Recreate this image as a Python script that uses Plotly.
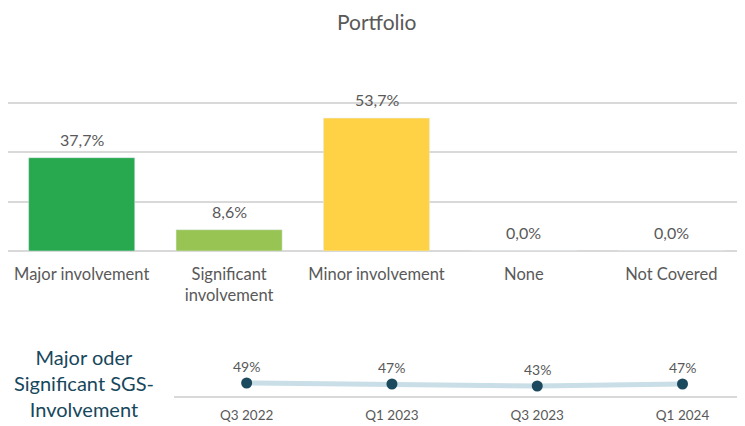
import plotly.graph_objects as go

categories = ["Major involvement", "Significant involvement", "Minor involvement", "None", "Not Covered"]
tick_labels = ["Major involvement", "Significant<br>involvement", "Minor involvement", "None", "Not Covered"]
values = [37.7, 8.6, 53.7, 0.0, 0.0]
bar_colors = ["#28A84F", "#97C452", "#FFD246", "#CCCCCC", "#CCCCCC"]

periods = ["Q3 2022", "Q1 2023", "Q3 2023", "Q1 2024"]
trend = [49, 47, 43, 47]

# page body has an 8px margin; figure fills the rest of the window
OFF = 8
W, H = 745 - OFF, 426 - OFF
def py(px):
    return 1 - (px - OFF) / H
def pxr(px):
    return (px - OFF) / W

FONT = "Lato"
GRAY = "#595959"

fig = go.Figure()

fig.add_trace(go.Bar(
    x=categories, y=values, marker_color=bar_colors, width=0.72,
    xaxis="x", yaxis="y", showlegend=False, hoverinfo="skip",
))

for c, v in zip(categories, values):
    fig.add_annotation(
        x=c, y=v, xref="x", yref="y", text=f"{v:.1f}%".replace(".", ","),
        showarrow=False, yanchor="bottom", yshift=7,
        font=dict(family=FONT, size=16, color=GRAY),
    )

fig.add_trace(go.Scatter(
    x=periods, y=trend, mode="lines+markers",
    line=dict(color="#C9DEE7", width=5),
    marker=dict(color="#1B4A5E", size=11),
    xaxis="x2", yaxis="y2", showlegend=False, hoverinfo="skip",
))
for p, v in zip(periods, trend):
    fig.add_annotation(
        x=p, y=v, xref="x2", yref="y2", text=f"{v}%",
        showarrow=False, yanchor="bottom", yshift=6,
        font=dict(family=FONT, size=14, color=GRAY),
    )

fig.update_layout(
    width=W, height=H,
    margin=dict(l=0, r=0, t=0, b=0),
    paper_bgcolor="white", plot_bgcolor="white",
    font=dict(family=FONT, color=GRAY),
    xaxis=dict(domain=[pxr(8), 1], range=[-0.5, 4.5], tickvals=categories, ticktext=tick_labels,
               ticks="outside", ticklen=8, tickcolor="rgba(0,0,0,0)",
               tickfont=dict(family=FONT, size=16.5, color=GRAY), showgrid=False,
               showline=False, zeroline=False, fixedrange=True),
    yaxis=dict(domain=[py(251), py(53)], range=[0, 80], dtick=20, showticklabels=False,
               gridcolor="#D9D9D9", gridwidth=1.5, zeroline=True, zerolinecolor="#D9D9D9",
               zerolinewidth=1.5, fixedrange=True),
    xaxis2=dict(domain=[pxr(174), 1], range=[-0.5, 3.43], anchor="y2", showgrid=False,
                showline=True, linecolor="#D9D9D9", linewidth=1.5, ticks="outside",
                ticklen=6, tickcolor="rgba(0,0,0,0)",
                tickfont=dict(family=FONT, size=13.5, color=GRAY), zeroline=False),
    yaxis2=dict(domain=[py(396), py(360)], range=[23, 95], anchor="x2", visible=False),
)

fig.add_annotation(
    x=0.5, y=1, xref="paper", yref="paper", text="Portfolio", showarrow=False,
    xanchor="center", yanchor="top", yshift=1,
    font=dict(family=FONT, size=21, color=GRAY),
)

fig.add_annotation(
    x=pxr(84), y=py(383), xref="paper", yref="paper",
    text="Major oder<br>Significant SGS-<br>Involvement", showarrow=False,
    font=dict(family=FONT, size=20, color="#17475C"), align="center",
    xanchor="center", yanchor="middle",
)

fig.write_html("out.html")
